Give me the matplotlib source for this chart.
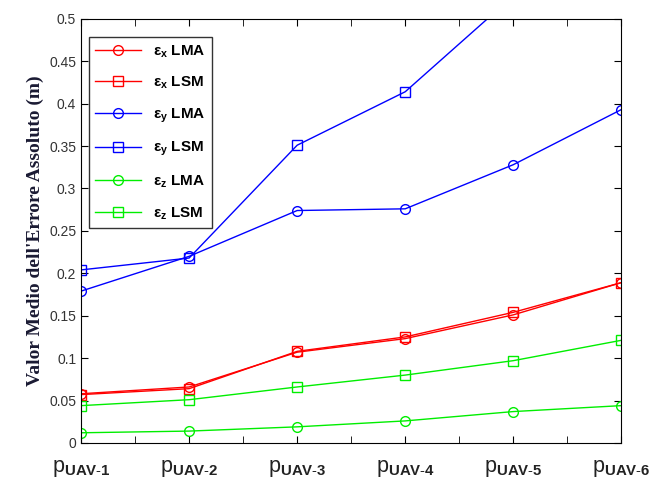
import numpy as np
import matplotlib.pyplot as plt

# Dati
positions = ["UAV-1", "UAV-2", "UAV-3", "UAV-4", "UAV-5", "UAV-6"]
ex_lma = [0.058, 0.066, 0.107, 0.123, 0.151, 0.189]
ex_lsm = [0.057, 0.064, 0.108, 0.125, 0.154, 0.189]
ey_lma = [0.179, 0.220, 0.274, 0.276, 0.328, 0.393]
ey_lsm = [0.204, 0.218, 0.351, 0.414, 0.527, 0.620]
ez_lma = [0.012, 0.014, 0.019, 0.026, 0.037, 0.044]
ez_lsm = [0.044, 0.051, 0.066, 0.080, 0.097, 0.121]


def main():
    plt.rcParams['mathtext.fontset'] = 'custom'
    plt.rcParams['mathtext.rm'] = 'Liberation Sans'
    plt.rcParams['mathtext.bf'] = 'Liberation Sans:bold'
    plt.rcParams['mathtext.it'] = 'Liberation Sans:italic'

    x = np.arange(1, len(positions) + 1)

    fig = plt.figure(figsize=(6.54, 4.82), dpi=100)
    ax = fig.add_axes([0.124, 0.081, 0.826, 0.880])

    series = [
        (ex_lma, 'red', 'o', r'$\mathbf{\epsilon_x}$ LMA'),
        (ex_lsm, 'red', 's', r'$\mathbf{\epsilon_x}$ LSM'),
        (ey_lma, 'blue', 'o', r'$\mathbf{\epsilon_y}$ LMA'),
        (ey_lsm, 'blue', 's', r'$\mathbf{\epsilon_y}$ LSM'),
        (ez_lma, '#00ee00', 'o', r'$\mathbf{\epsilon_z}$ LMA'),
        (ez_lsm, '#00ee00', 's', r'$\mathbf{\epsilon_z}$ LSM'),
    ]
    for vals, col, mk, lab in series:
        ax.plot(x, vals, color=col, marker=mk, markersize=7, markerfacecolor='none',
                markeredgecolor=col, linewidth=1, label=lab)

    ax.set_xlim(1, 6)
    ax.set_ylim(0, 0.5)
    ax.set_yticks(np.arange(0, 0.501, 0.05))
    ax.set_yticklabels(["0", "0.05", "0.1", "0.15", "0.2", "0.25", "0.3",
                        "0.35", "0.4", "0.45", "0.5"], color='#333333', fontsize=10,
                       family='Liberation Sans')
    ax.set_xticks(x)
    ax.set_xticks(np.arange(1.5, 6, 1), minor=True)
    labels = [r'$\mathrm{p}_{\mathbf{%s}}$' % p.replace('-', r'\text{-}') for p in positions]
    ax.set_xticklabels(labels, fontsize=15.5, color='#222222')
    ax.tick_params(axis='both', which='both', direction='in', top=True, right=True,
                   length=5)
    ax.tick_params(axis='x', pad=11)

    ax.set_ylabel("Valor Medio dell'Errore Assoluto (m)", family='Liberation Serif',
                  fontweight='bold', fontsize=14, color='#1a1a33')

    leg = ax.legend(loc='upper left', bbox_to_anchor=(0.0, 0.975), fancybox=False,
                    edgecolor='black', prop={'weight': 'bold', 'size': 11,
                                             'family': 'Liberation Sans'},
                    handlelength=3, borderaxespad=0.5, labelspacing=1.0)
    leg.get_frame().set_linewidth(1)

    plt.savefig("out.png", dpi=100)


if __name__ == "__main__":
    main()
